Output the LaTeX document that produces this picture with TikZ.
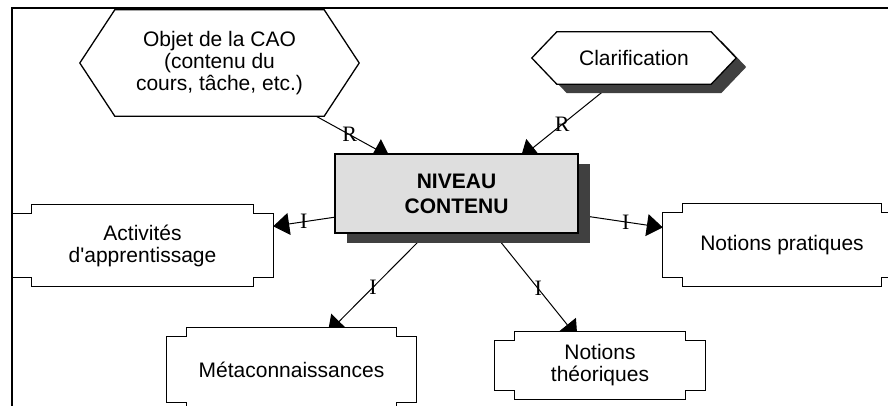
\documentclass[tikz,border=0pt]{standalone}
\usepackage{fontspec}
\newfontfamily\arialfont{Liberation Sans}
\newfontfamily\romanfont{Liberation Serif}
\usetikzlibrary{
        arrows.meta,
        shadows
    }
\pgfdeclarelayer{edgelayer}
\pgfdeclarelayer{boxlayer}
\pgfsetlayers{edgelayer,boxlayer,main}
\definecolor{darkshade}{HTML}{404040}
\definecolor{paleg}{HTML}{DEDEDE}
\tikzset{>={Triangle[length=16pt,width=22pt]}}
\tikzset{every node/.style={font=\arialfont\fontsize{21}{22}\selectfont,align=center,inner sep=0pt}}
\tikzset{sized/.style 2 args={minimum width=#1,minimum height=#2}}
\tikzset{outline/.style={draw,line width=1.3pt,fill=white}}
\tikzset{link/.style={->,line width=1pt}}
\tikzset{into/.style={shorten >=-7pt}}
\tikzset{lab/.style={font=\romanfont\fontsize{22}{22}\selectfont}}
\tikzset{niv/.style={draw,line width=1.5pt,fill=paleg,
        font=\arialfont\bfseries\fontsize{21}{25}\selectfont,
        drop shadow={shadow xshift=12pt,shadow yshift=-10pt,fill=darkshade,opacity=1}}}

\begin{document}
\begin{tikzpicture}[x=1pt,y=-1pt]
			\useasboundingbox (0,0) rectangle (888,406);
			\node[sized={279pt}{106pt}] (cao) at (219.5,63) {Objet de la CAO\\(contenu du\\cours, tâche, etc.)};
			\node[sized={204pt}{52pt}] (clar) at (634,58) {Clarification};
			\node[niv,sized={243pt}{79pt}] (niveau) at (456.5,193.5) {NIVEAU\\CONTENU};
			\node[sized={261pt}{81pt}] (act) at (142.5,245.5) {Activités\\d'apprentissage};
			\node[sized={249pt}{83pt}] (meta) at (291.5,369.5) {Métaconnaissances};
			\node[sized={238pt}{82pt}] (np) at (782,245) {Notions pratiques};
			\node[sized={210pt}{67pt}] (nt) at (600,365.5) {Notions\\théoriques};
			\draw[line width=1.4pt] (12,420) -- (12,8) -- (900,8);
			\begin{pgfonlayer}{boxlayer}
				\fill[darkshade,transform canvas={xshift=10pt,yshift=-9pt}] (clar.west) -- ([xshift=25pt]clar.north west) -- ([xshift=-25pt]clar.north east) -- (clar.east) -- ([xshift=-25pt]clar.south east) -- ([xshift=25pt]clar.south west) -- cycle;
				\foreach \n/\d in {cao/35pt,clar/25pt}
					\draw[outline] (\n.west) -- ([xshift=\d]\n.north west) -- ([xshift=-\d]\n.north east) -- (\n.east) -- ([xshift=-\d]\n.south east) -- ([xshift=\d]\n.south west) -- cycle;
				\foreach \n in {act,meta,np,nt}
					\draw[outline] ([xshift=20pt]\n.north west) -- ([xshift=-20pt]\n.north east) -- ([xshift=-20pt,yshift=-9pt]\n.north east) -- ([yshift=-9pt]\n.north east) -- ([yshift=9pt]\n.south east) -- ([xshift=-20pt,yshift=9pt]\n.south east) -- ([xshift=-20pt]\n.south east) -- ([xshift=20pt]\n.south west) -- ([xshift=20pt,yshift=9pt]\n.south west) -- ([yshift=9pt]\n.south west) -- ([yshift=-9pt]\n.north west) -- ([xshift=20pt,yshift=-9pt]\n.north west) -- cycle;
			\end{pgfonlayer}
			\begin{pgfonlayer}{edgelayer}
				\path[link]
					(cao)  edge [into] node[lab] {R} (niveau)
					(clar.230)  edge [into] node[lab,pos=.58] {R} (niveau.30)
					(niveau.191)  edge node[lab] {I} (act)
					(niveau.233)  edge [into] node[lab,pos=.57] {I} (meta)
					(niveau.350)  edge node[lab,pos=.56] {I} (np)
					(niveau.313)  edge [into] node[lab,pos=.56] {I} (nt);
			\end{pgfonlayer}
		\end{tikzpicture}
\end{document}
